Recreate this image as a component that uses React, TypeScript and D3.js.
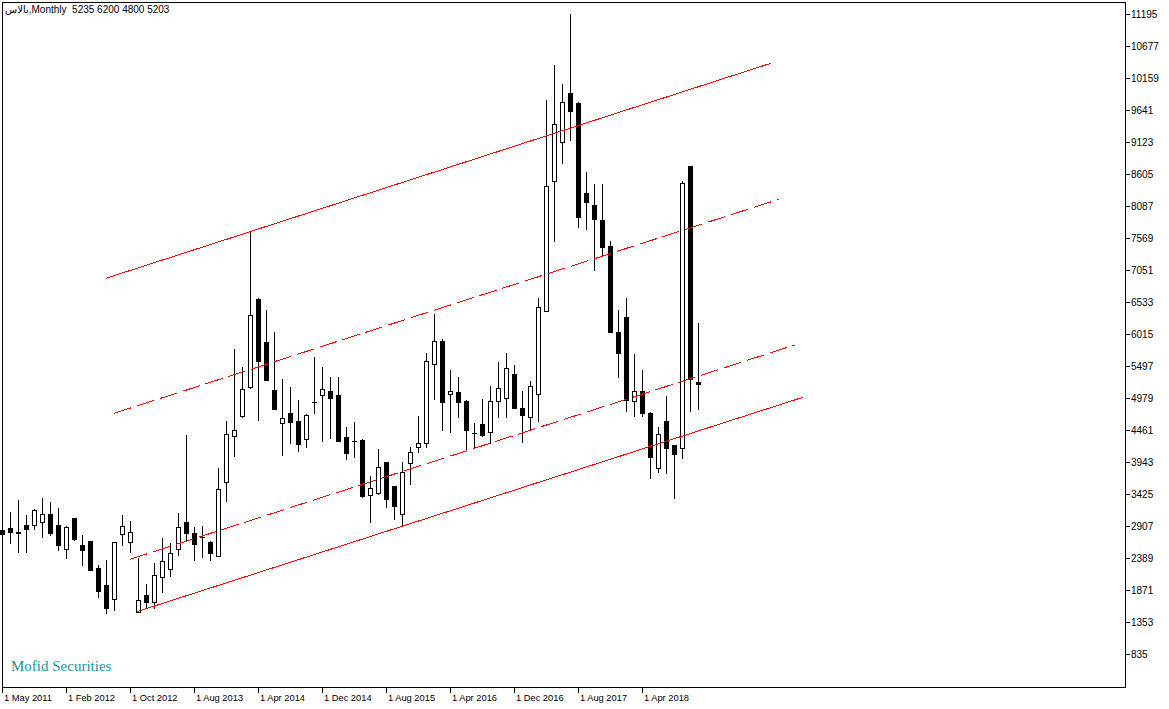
import React from 'react';
import * as d3 from 'd3';

// ---- data ----
const SYMBOL = 'بالاس';
const PERIOD = 'Monthly';
const WATERMARK = 'Mofid Securities';

// monthly candles, index 0 = May 2011
const opens = [
  2842, 2875, 2806, 2923, 2923, 2967, 3101, 2923, 2530, 3031,
  2599, 2664, 2222, 1951, 1721, 2772, 2653, 1519, 1790, 1682,
  2086, 2205, 2530, 2972, 2789, 2724, 2643, 2421, 3624, 4359,
  4683, 5152, 6582, 5886, 5108, 4569, 4741, 4607, 4310, 4919,
  5023, 5092, 5028, 4343, 4278, 4299, 3404, 3436, 3938, 3554,
  3096, 3922, 4181, 4246, 5525, 5897, 5039, 5076, 4935, 4408,
  4553, 4434, 4935, 4974, 5368, 4822, 4667, 5044, 6387, 8492,
  9123, 9911, 9749, 8293, 8103, 7860, 7440, 6042, 6285, 4935,
  5092, 4741, 3841, 4612, 4218, 4175, 8735, 5235,
];
const highs = [
  2860, 3134, 3328, 3085, 3182, 3360, 3300, 3192, 2900, 3040,
  2761, 2670, 2275, 2356, 2650, 3085, 2988, 2383, 1963, 2313,
  2707, 2626, 3124, 4380, 2886, 2907, 2664, 3841, 4607, 5772,
  5486, 7671, 6598, 6403, 6047, 5287, 5162, 4947, 4720, 5648,
  5486, 5324, 5324, 4514, 4586, 4310, 3716, 4153, 3950, 3560,
  3948, 4191, 4688, 5702, 6339, 5929, 5432, 5324, 4950, 4569,
  4963, 5173, 5567, 5712, 5513, 5092, 5254, 6593, 9803, 10369,
  10062, 11195, 9775, 8632, 8438, 8438, 7520, 6403, 6593, 5691,
  5432, 4750, 4514, 5011, 4225, 8497, 8740, 6200,
];
const lows = [
  2760, 2637, 2491, 2491, 2853, 2724, 2761, 2518, 2394, 2680,
  2275, 2190, 1763, 1503, 1547, 2599, 2491, 1515, 1575, 1575,
  1843, 2097, 2437, 2680, 2357, 2410, 2357, 2415, 3317, 4045,
  4675, 5145, 4623, 5265, 4800, 4056, 4255, 4126, 4191, 4731,
  4288, 4336, 4282, 3987, 4029, 3381, 2977, 3420, 3219, 3020,
  2907, 3582, 4100, 4181, 4958, 4461, 4434, 4676, 4153, 4165,
  4370, 4246, 4667, 4667, 4815, 4262, 4477, 4607, 6380, 7525,
  8788, 9155, 7752, 7715, 7051, 7282, 6040, 5324, 4769, 4692,
  4692, 3689, 3786, 3770, 3355, 4003, 4769, 4800,
];
const closes = [
  2772, 2805, 2790, 2863, 3166, 3101, 2799, 2594, 2886, 2691,
  2518, 2195, 1860, 1584, 2642, 2907, 2805, 1709, 1682, 2109,
  2345, 2464, 2886, 2789, 2611, 2724, 2475, 3501, 4391, 4456,
  5120, 6318, 5583, 5270, 4806, 4650, 4595, 4239, 4704, 4919,
  5120, 4984, 4288, 4094, 4278, 3393, 3517, 3857, 3349, 3236,
  3776, 4110, 4246, 5573, 5897, 4909, 5092, 4919, 4461, 4408,
  4380, 4930, 5136, 5460, 4822, 4704, 5173, 6457, 8411, 9414,
  9766, 9630, 7904, 8157, 7872, 7428, 6052, 5712, 4947, 5087,
  4741, 4029, 4396, 4165, 4068, 8454, 5287, 5203,
];

const priceTicks = [
  11195, 10677, 10159, 9641, 9123, 8605, 8087, 7569, 7051, 6533,
  6015, 5497, 4979, 4461, 3943, 3425, 2907, 2389, 1871, 1353, 835,
];

const timeTickIndex = [0, 8, 16, 24, 32, 40, 48, 56, 64, 72, 80];
const timeTickLabels = [
  '1 May 2011', '1 Feb 2012', '1 Oct 2012', '1 Aug 2013', '1 Apr 2014',
  '1 Dec 2014', '1 Aug 2015', '1 Apr 2016', '1 Dec 2016', '1 Aug 2017', '1 Apr 2018',
];

// channel lines (bar index / price at both ends)
const channelNames = ['top', 'upperMid', 'lowerMid', 'bottom'];
const channelStartIndex = [13, 14, 16, 16.85];
const channelStartPrice = [6917, 4731, 2368, 1520];
const channelEndIndex = [96.1, 97.1, 99.1, 100.1];
const channelEndPrice = [10397, 8195, 5837, 4990];

// ---- layout ----
const W = 1169;
const H = 709;
const PLOT_LEFT = 2;
const PLOT_RIGHT = 1125;
const PLOT_TOP = 2;
const PLOT_BOTTOM = 687;

export default function App() {
  const x = d3.scaleLinear().domain([0, 87]).range([2, 698]);
  const y = d3.scaleLinear().domain([835, 11195]).range([654, 14]);
  const font = '"Liberation Sans", Arial, "DejaVu Sans", sans-serif';

  const candles = opens.map((o, i) => {
    const c = closes[i];
    const cx = Math.round(x(i));
    const yH = Math.round(y(highs[i]));
    const yL = Math.round(y(lows[i]));
    const yO = Math.round(y(o));
    const yC = Math.round(y(c));
    let body;
    if (c < o) {
      body = <rect x={cx - 2} y={yO} width={5} height={Math.max(1, yC - yO + 1)} fill="#000" />;
    } else if (c > o) {
      body = (
        <rect x={cx - 1.5} y={yC + 0.5} width={4} height={Math.max(1, yO - yC)} fill="#fff" stroke="#000" strokeWidth={1} />
      );
    } else {
      body = <rect x={cx - 2} y={yO} width={5} height={1} fill="#000" />;
    }
    return (
      <g key={i}>
        <rect x={cx} y={yH} width={1} height={yL - yH + 1} fill="#000" />
        {body}
      </g>
    );
  });

  const lineGen = d3.line<[number, number]>().x((d) => x(d[0])).y((d) => y(d[1]));

  return (
    <svg
      width={W}
      height={H}
      style={{ position: 'fixed', left: 0, top: 0, background: '#fff' }}
      xmlns="http://www.w3.org/2000/svg"
    >
      <rect x={0} y={0} width={W} height={H} fill="#fff" />

      <text x={11} y={671} fontFamily='"Liberation Serif", "Times New Roman", serif' fontSize={15} fill="#1a9494">
        {WATERMARK}
      </text>

      {candles}

      {channelNames.map((name, k) => {
        const d = lineGen([
          [channelStartIndex[k], channelStartPrice[k]],
          [channelEndIndex[k], channelEndPrice[k]],
        ]);
        const dashed = name === 'upperMid' || name === 'lowerMid';
        return (
          <path
            key={name}
            d={d || ''}
            fill="none"
            stroke="#ff0000"
            strokeWidth={1}
            strokeDasharray={dashed ? '18 6' : undefined}
            shapeRendering="crispEdges"
          />
        );
      })}

      <rect
        x={PLOT_LEFT + 0.5}
        y={PLOT_TOP + 0.5}
        width={PLOT_RIGHT - PLOT_LEFT}
        height={PLOT_BOTTOM - PLOT_TOP}
        fill="none"
        stroke="#000"
        strokeWidth={1}
        shapeRendering="crispEdges"
      />

      <text x={5} y={13} fontFamily={font} fontSize={10} fill="#000" style={{ whiteSpace: 'pre' }}>
        {`${SYMBOL},${PERIOD}  ${opens[87]} ${highs[87]} ${lows[87]} ${closes[87]}`}
      </text>

      {priceTicks.map((p) => {
        const py = Math.round(y(p));
        return (
          <g key={p}>
            <rect x={PLOT_RIGHT + 1} y={py} width={4} height={1} fill="#000" />
            <text x={PLOT_RIGHT + 6} y={py + 4} fontFamily={font} fontSize={10} fill="#000">
              {p}
            </text>
          </g>
        );
      })}

      {timeTickIndex.map((idx, k) => {
        const tx = Math.round(x(idx));
        return (
          <g key={idx}>
            <rect x={tx} y={PLOT_BOTTOM + 1} width={1} height={5} fill="#000" />
            <text x={tx + 2} y={PLOT_BOTTOM + 14} fontFamily={font} fontSize={9.3} fill="#000">
              {timeTickLabels[k]}
            </text>
          </g>
        );
      })}
    </svg>
  );
}
